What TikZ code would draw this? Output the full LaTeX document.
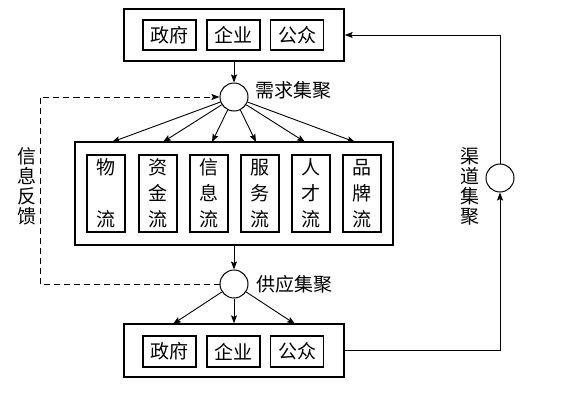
\documentclass[tikz,border=0pt]{standalone}
\usepackage{fontspec}
\setmainfont{Noto Sans CJK SC}
\usetikzlibrary{arrows.meta,positioning}
\tikzset{outer/.style={draw,line width=1.4pt,inner sep=0pt},
  inbox/.style={draw,line width=1.1pt,inner sep=0pt,font=\fontsize{19}{26}\selectfont,align=center},
  hub/.style={draw,line width=1pt,circle,minimum size=28pt,inner sep=0pt},
  lab/.style={font=\fontsize{19}{20}\selectfont,align=center,inner sep=0pt},
  link/.style={line width=0.9pt,-{Stealth[length=8pt,width=6pt,inset=1.5pt]}}}

\begin{document}
\begin{tikzpicture}[x=1pt,y=-1pt]
  \useasboundingbox (0,0) rectangle (566,405);
  % actors, top and bottom
  \node[outer,minimum width=220pt,minimum height=52pt] (T) at (234,35) {};
  \node[outer,minimum width=220pt,minimum height=53pt] (B) at (234,350.5) {};
  \foreach \k/\l/\x in {1/政府/169.5,2/企业/233.5,3/公众/297} {\node[inbox,minimum width=53pt,minimum height=30pt] (T\k) at (\x,35) {\l}; \node[inbox,minimum width=53pt,minimum height=31pt] (B\k) at (\x,351.5) {\l};}
  % flows
  \node[outer,minimum width=318pt,minimum height=103pt] (M) at (234,193.5) {};
  \foreach \k/\l/\x/\t in {1/{物\\ \\流}/106/112,2/{资\\金\\流}/158/163,3/{信\\息\\流}/209/212,4/{服\\务\\流}/260/256,5/{人\\才\\流}/311/305,6/{品\\牌\\流}/362/355} {\node[inbox,minimum width=38pt,minimum height=77pt] (M\k) at (\x,193.5) {\l}; \coordinate (A\k) at (\t,142);}
  % hubs
  \node[hub] (D) at (234,97) {};
  \node[hub] (S) at (234,284) {};
  \node[hub] (C) at (500,178) {};
  \node[lab,right=7pt of D,yshift=7pt] (Dl) {需求集聚};
  \node[lab,right=8pt of S] (Sl) {供应集聚};
  \node[lab] (Cl) at (470,186) {渠\\道\\集\\聚};
  \node[lab] (Fl) at (27,186) {信\\息\\反\\馈};
  \coordinate (L) at (40,0);
  \coordinate (B1t) at (173,324); \coordinate (B3t) at (295,324);
  \draw[link] (T) -- (D);
  \foreach \k in {1,...,6} {\draw[link] (D) -- (A\k);}
  \draw[link] (M) -- (S);
  \draw[link] (S) -- (B1t); \draw[link] (S) -- (B); \draw[link] (S) -- (B3t);
  \draw[link,dash pattern=on 6pt off 4pt] (S.west) -- (S.west -| L) |- (D.west);
  \draw[link] (B.east) -| (C);
  \draw[link] (C) |- (T.east);
\end{tikzpicture}
\end{document}
